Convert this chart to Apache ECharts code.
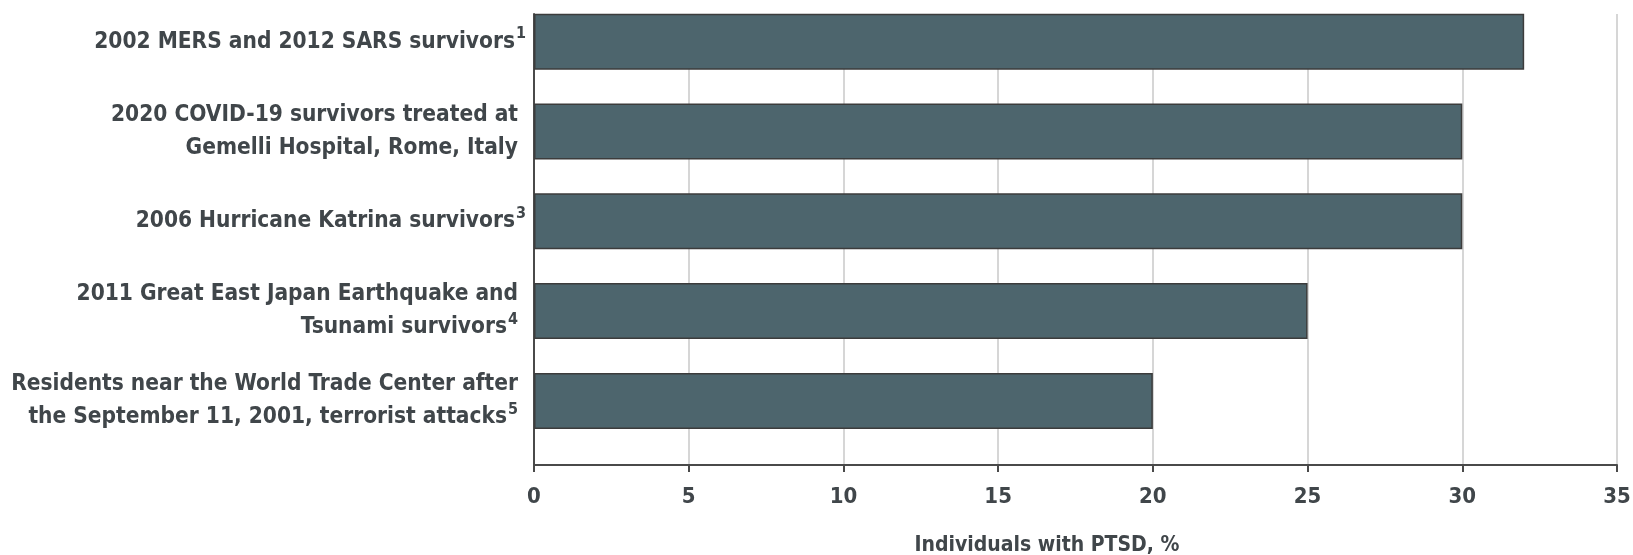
<!DOCTYPE html>
<html>
<head>
<meta charset="utf-8">
<script src="https://cdn.jsdelivr.net/npm/echarts@6/dist/echarts.min.js"></script>
<style>
html,body{margin:0;padding:0;background:#fff;}
#chart{width:1633px;height:555px;}
</style>
</head>
<body>
<div id="chart"></div>
<script>
// Data
var categories = [
  '2002 MERS and 2012 SARS survivors',
  '2020 COVID-19 survivors treated at\nGemelli Hospital, Rome, Italy',
  '2006 Hurricane Katrina survivors',
  '2011 Great East Japan Earthquake and\nTsunami survivors',
  'Residents near the World Trade Center after\nthe September 11, 2001, terrorist attacks'
];
var footnotes = ['1', '', '3', '4', '5'];
var values = [32, 30, 30, 25, 20];
var xTicks = { min: 0, max: 35, interval: 5 };
var xAxisTitle = 'Individuals with PTSD, %';

var FONT = "'DejaVu Sans Condensed', 'DejaVu Sans', sans-serif";
var TXT = '#40464a';

var chart = echarts.init(document.getElementById('chart'));

function labelFormatter(value, idx) {
  var lines = value.split('\n');
  var out = lines.map(function (l) { return '{t|' + l + '}'; });
  var note = footnotes[idx];
  if (note) out[out.length - 1] += '{s|' + note + '}';
  if (lines.length > 1) out = out.map(function (l) { return l + '{p| }'; });
  return out.join('\n');
}

chart.setOption({
  animation: false,
  backgroundColor: '#fff',
  grid: [
    { left: 534, right: 16, top: -3.2, height: 449, containLabel: false, outerBoundsMode: 'none' },
    { left: 534, right: 16, top: 14, bottom: 90, containLabel: false, outerBoundsMode: 'none' }
  ],
  xAxis: [
    {
      gridIndex: 0, type: 'value', min: xTicks.min, max: xTicks.max, interval: xTicks.interval,
      show: false
    },
    {
      gridIndex: 1, type: 'value', min: xTicks.min, max: xTicks.max, interval: xTicks.interval,
      axisLine: { show: true, lineStyle: { color: '#4a4a4a', width: 2 } },
      axisTick: { show: true, length: 7, lineStyle: { color: '#4a4a4a', width: 2 } },
      splitLine: { show: true, lineStyle: { color: '#c8c8c8', width: 1.5 } },
      axisLabel: { fontFamily: FONT, fontSize: 22, fontWeight: 'bold', color: TXT, margin: 21 },
      name: xAxisTitle, nameLocation: 'middle', nameGap: 70,
      nameTextStyle: { fontFamily: FONT, fontSize: 21, fontWeight: 'bold', color: TXT, padding: [0, 57, 0, 0] }
    }
  ],
  yAxis: [
    {
      gridIndex: 0, type: 'category', data: categories, inverse: true,
      axisLine: { show: false }, axisTick: { show: false }, splitLine: { show: false },
      axisLabel: {
        margin: 8, align: 'right', formatter: labelFormatter,
        rich: {
          t: { fontFamily: FONT, fontSize: 22.5, fontWeight: 'bold', color: TXT, lineHeight: 33 },
          s: { fontFamily: FONT, fontSize: 16, fontWeight: 'bold', color: TXT, lineHeight: 33, verticalAlign: 'top', padding: [1, 0, 0, 1] },
          p: { fontFamily: FONT, fontSize: 10, width: 8, lineHeight: 33 }
        }
      }
    },
    {
      gridIndex: 1, type: 'value', min: 0, max: 1,
      axisLine: { show: true, lineStyle: { color: '#4a4a4a', width: 2 } },
      axisTick: { show: false }, axisLabel: { show: false }, splitLine: { show: false }
    }
  ],
  series: [
    {
      type: 'bar', xAxisIndex: 0, yAxisIndex: 0, data: values, barWidth: 56, z: 5,
      itemStyle: { color: '#4d656d', borderColor: '#3c3c3c', borderWidth: 1.5 }
    }
  ]
});
</script>
</body>
</html>
